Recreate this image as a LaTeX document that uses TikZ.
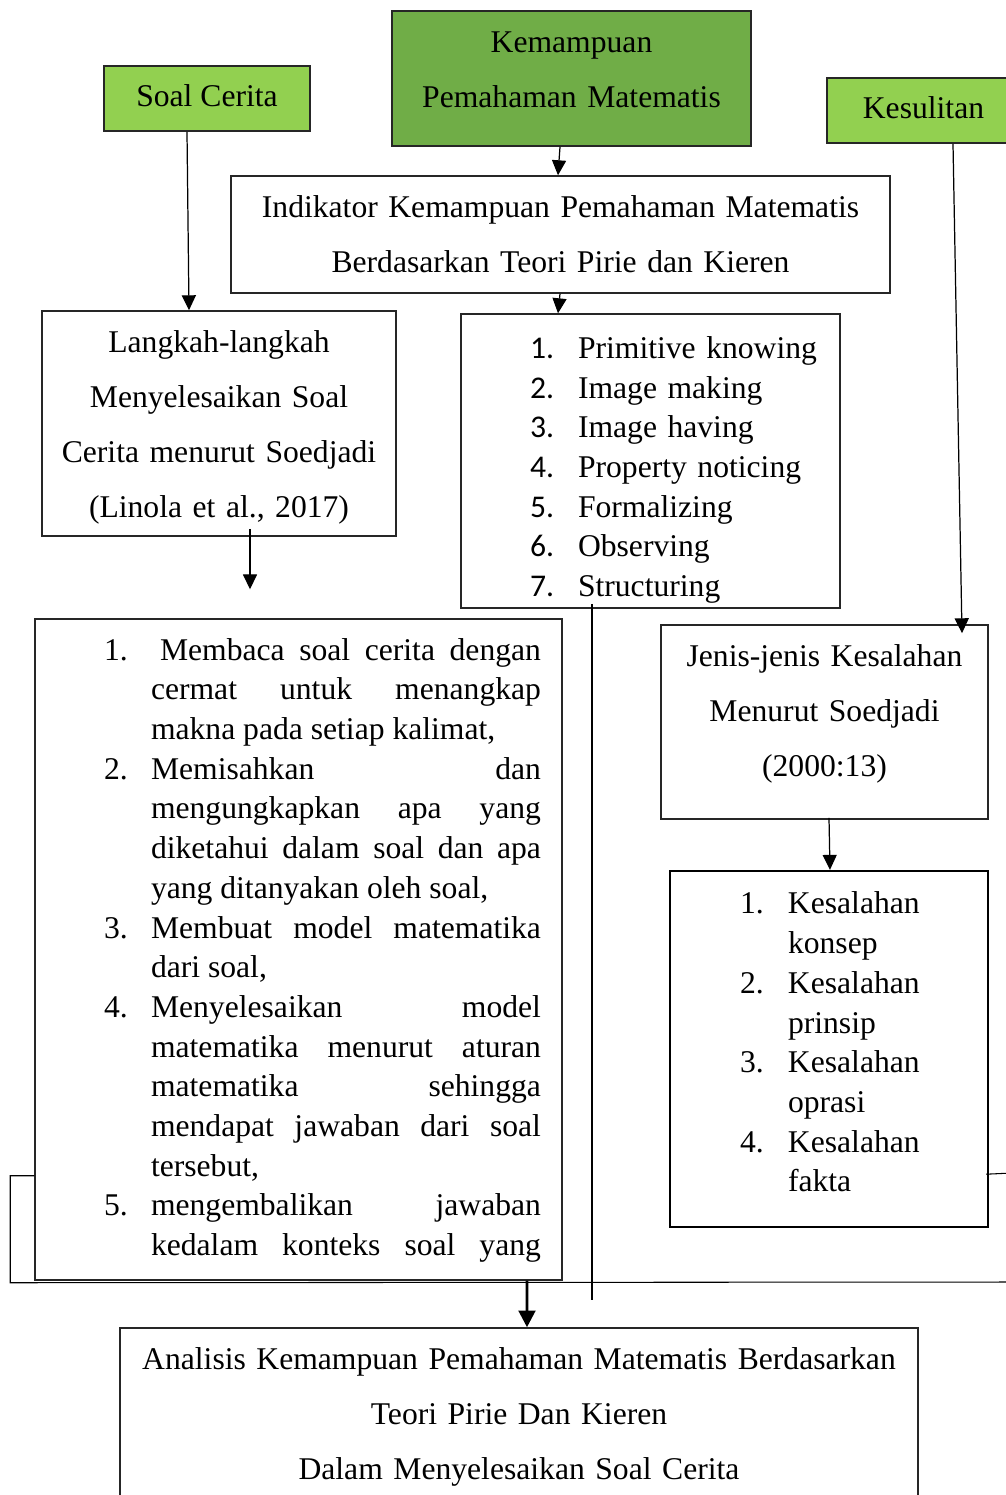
\documentclass[tikz,border=0pt]{standalone}
\usepackage{fontspec}
\setmainfont{Liberation Serif}
\newfontfamily\numfont{Carlito}
\usetikzlibrary{arrows.meta,calc}

\definecolor{soalgreen}{HTML}{92D050}
\definecolor{kemgreen}{HTML}{70AD47}

\newcommand{\liftup}[1]{\rule[-#1]{0pt}{0pt}}
\newcommand{\pushdown}[1]{\rule{0pt}{#1}}
\newcommand{\litem}[2][0.94cm]{\par\hangindent=0.94cm\hangafter=1\noindent\makebox[#1][l]{#2}}
\newcommand{\pitem}[1]{\par\noindent\makebox[0.96cm][l]{\numfont #1}}
\newcommand{\kitem}[1]{\par\hangindent=0.96cm\hangafter=1\noindent\makebox[0.96cm][l]{#1}}

\tikzset{
	box/.style={draw=black!85, line width=0.9pt, inner sep=0pt, font=\fontsize{18pt}{1.1cm}\selectfont},
	listbox/.style={box, font=\fontsize{18pt}{0.794cm}\selectfont},
	>={Triangle[length=8.5pt,width=8pt]},
	link/.style={->, line width=0.7pt},
	rule/.style={line width=0.6pt},
}

\begin{document}
\begin{tikzpicture}[x=0.02cm, y=-0.02cm] % 1px = 0.02cm
	\useasboundingbox (0,0) rectangle (1006,1495);
	\begin{scope}
		\clip (0,0) rectangle (1006,1495);

		\node[box, fill=soalgreen, minimum width=4.12cm, minimum height=1.3cm] (soal) at (207,98.5) {Soal Cerita\liftup{0.12cm}};
		\node[box, fill=kemgreen, minimum width=7.18cm, minimum height=2.7cm, text width=7cm, align=center] (kemampuan) at (571.5,78.5)
			{Kemampuan\\Pemahaman Matematis\liftup{0.36cm}};
		\node[box, fill=soalgreen, minimum width=3.86cm, minimum height=1.3cm] (kesulitan) at (923.5,110.5) {Kesulitan\liftup{0.12cm}};

		\node[box, minimum width=13.18cm, minimum height=2.34cm, text width=13cm, align=center] (indikator) at (560.5,234.5)
			{Indikator Kemampuan Pemahaman Matematis\\Berdasarkan Teori Pirie dan Kieren};

		\node[box, minimum width=7.08cm, minimum height=4.5cm, text width=6.9cm, align=center] (langkah) at (219,423.5)
			{\pushdown{0.6cm}Langkah-langkah\\Menyelesaikan Soal\\Cerita menurut Soedjadi\\(Linola et al., 2017)};

		\node[listbox, minimum width=7.58cm, minimum height=5.88cm, text width=7.58cm, align=left] (pirie) at (650.5,461)
			{\leftskip=1.38cm
			\pitem{1.}Primitive knowing
			\pitem{2.}Image making
			\pitem{3.}Image having
			\pitem{4.}Property noticing
			\pitem{5.}Formalizing
			\pitem{6.}Observing
			\pitem{7.}Structuring\par};

		\node[listbox, minimum width=10.54cm, minimum height=13.22cm, text width=9.7cm, align=justify] (langkahlist) at (298.5,949.5)
			{\leftskip=0.96cm \tolerance=10000 \hyphenpenalty=10000 \hbadness=10000
			\litem[1.12cm]{1.}Membaca soal cerita dengan\linebreak cermat untuk menangkap\linebreak makna pada setiap kalimat,
			\litem{2.}Memisahkan dan\linebreak mengungkapkan apa yang\linebreak diketahui dalam soal dan apa\linebreak yang ditanyakan oleh soal,
			\litem{3.}Membuat model matematika\linebreak dari soal,
			\litem{4.}Menyelesaikan model\linebreak matematika menurut aturan\linebreak matematika sehingga\linebreak mendapat jawaban dari soal\linebreak tersebut,
			\litem{5.}mengembalikan jawaban\linebreak kedalam konteks soal yang\liftup{0.46cm}\parfillskip=0pt\par};

		\node[box, minimum width=6.54cm, minimum height=3.88cm, text width=6.4cm, align=center] (jenis) at (824.5,722)
			{Jenis-jenis Kesalahan\\Menurut Soedjadi\\(2000:13)\liftup{0.44cm}};

		\node[listbox, draw=black, line width=1.4pt, minimum width=6.36cm, minimum height=7.12cm, text width=6.36cm, align=left] (kesalahan) at (829,1049)
			{\leftskip=1.4cm
			\kitem{1.}Kesalahan\newline konsep
			\kitem{2.}Kesalahan\newline prinsip
			\kitem{3.}Kesalahan\newline oprasi
			\kitem{4.}Kesalahan\newline fakta\liftup{0.64cm}\par};

		\node[box, minimum width=15.96cm, minimum height=3.54cm, text width=15.8cm, align=center] (analisis) at (519,1416.5)
			{Analisis Kemampuan Pemahaman Matematis Berdasarkan\\Teori Pirie Dan Kieren\\Dalam Menyelesaikan Soal Cerita};

		\draw[link] ($(kemampuan.south)+(-11.5,0)$) -- ($(indikator.north)+(-2.5,0)$);
		\draw[link] ($(indikator.south)+(-0.5,0)$) -- ($(pirie.north)+(-92.5,0)$);
		\draw[link] ($(soal.south)+(-20,0)$) -- ($(langkah.north)+(-30,0)$);
		\draw[link] ($(kesulitan.south)+(29.5,0)$) -- ($(jenis.north)+(137.5,9)$);
		\draw[link] ($(langkah.south)+(31,-8)$) -- ($(langkahlist.north)+(-48.5,-29)$);
		\draw[link] ($(jenis.south)+(4.5,-2)$) -- ($(kesalahan.north)+(1,0)$);
		\draw[->, line width=1.7pt, >={Triangle[length=9.5pt,width=9.5pt]}] ($(langkahlist.south)+(228.5,0)$) -- ($(analisis.north)+(8,0)$);

		\coordinate (pirieend) at (592,1300);
		\coordinate (baseend) at (1012,1282);
		\coordinate (tickend) at (1012,1173);
		\draw[rule] ($(pirie.south)+(-58.5,-5)$) -- (pirieend);
		\draw[rule] ($(langkahlist.south west)+(0,-105)$) -- ++(-24,0) -- ++(0,107) -- (baseend);
		\draw[rule] ($(kesalahan.south east)+(-3,-54)$) -- (tickend);
	\end{scope}
\end{tikzpicture}
\end{document}
